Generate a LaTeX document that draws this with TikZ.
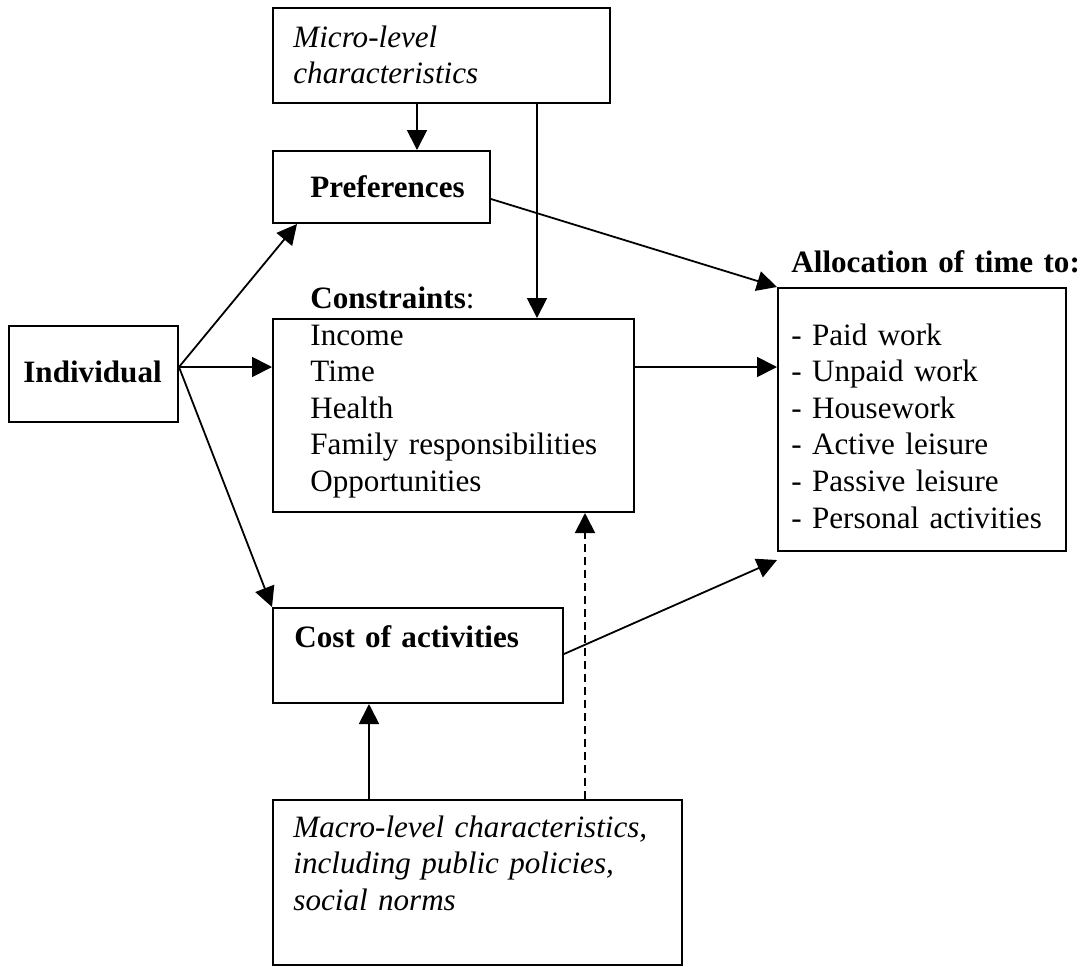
\documentclass[tikz,border=0pt]{standalone}
\usepackage{fontspec}
\setmainfont{Liberation Serif}
\usetikzlibrary{arrows.meta}
\begin{document}
\begin{tikzpicture}[x=0.5pt,y=-0.5pt,
  box/.style 2 args={draw, line width=1pt, minimum width=#1*0.5pt, minimum height=#2*0.5pt, anchor=north west, inner sep=0pt},
  txt/.style={inner sep=0pt, anchor=base west, align=left, text width=200pt, font=\fontsize{15.55pt}{18.3pt}\selectfont},
  arr/.style={line width=0.9pt, -{Triangle[width=10pt,length=10pt]}},
  dashline/.style={dash pattern=on 4pt off 2.5pt}
]
\useasboundingbox (0,0) rectangle (1083,966);
% boxes
\node[box={337}{95}] (micro) at (272,7) {};
\node[box={217}{72}] (prefs) at (272,150) {};
\node[box={169}{96}] (indiv) at (8,325) {};
\node[box={361}{193}] (cons) at (272,318) {};
\node[box={288}{263}] (alloc) at (777,287) {};
\node[box={290}{95}] (cost) at (272,607) {};
\node[box={409}{165}] (macro) at (272,799) {};
% texts
\node[txt] (microtxt) at (293,47) {\itshape Micro-level\\characteristics};
\node[txt] (preftxt) at (310,197) {\textbf{Preferences}};
\node[txt] (indtxt) at (23,382) {\textbf{Individual}};
\node[txt] (conslbl) at (310,308) {\textbf{Constraints}:};
\node[txt] (constxt) at (310,345) {Income\\Time\\Health\\Family responsibilities\\Opportunities};
\node[txt] (alloclbl) at (791,272) {\textbf{Allocation of time to:}};
\node[txt] (alloctxt) at (791,345) {- Paid work\\- Unpaid work\\- Housework\\- Active leisure\\- Passive leisure\\- Personal activities};
\node[txt] (costtxt) at (294,647) {\textbf{Cost of activities}};
\node[txt] (macrotxt) at (293,837) {\itshape Macro-level characteristics,\\including public policies,\\social norms};
% helper coordinates
\coordinate (xa) at (417,0);
\coordinate (xb) at (537,0);
\coordinate (xc) at (369,0);
\coordinate (xd) at (585,0);
\coordinate (xe) at (297,0);
\coordinate (ya) at (0,367);
\coordinate (yp) at (0,199);
\coordinate (yc) at (0,654);
\coordinate (io) at (indiv.east |- ya);
% connectors
\draw[arr] (micro.south -| xa) -- (prefs.north -| xa);
\draw[arr] (micro.south -| xb) -- (cons.north -| xb);
\draw[arr] (prefs.east |- yp) -- (alloc.north west);
\draw[arr] (io) -- (prefs.south -| xe);
\draw[arr] (io) -- (cons.west |- io);
\draw[arr] (io) -- (cost.north west);
\draw[arr] (cons.east |- io) -- (alloc.west |- io);
\draw[arr] (cost.east |- yc) -- ([yshift=-4pt]alloc.south west);
\draw[arr] (macro.north -| xc) -- (cost.south -| xc);
\draw[arr, dashline] (macro.north -| xd) -- (cons.south -| xd);
\end{tikzpicture}
\end{document}
